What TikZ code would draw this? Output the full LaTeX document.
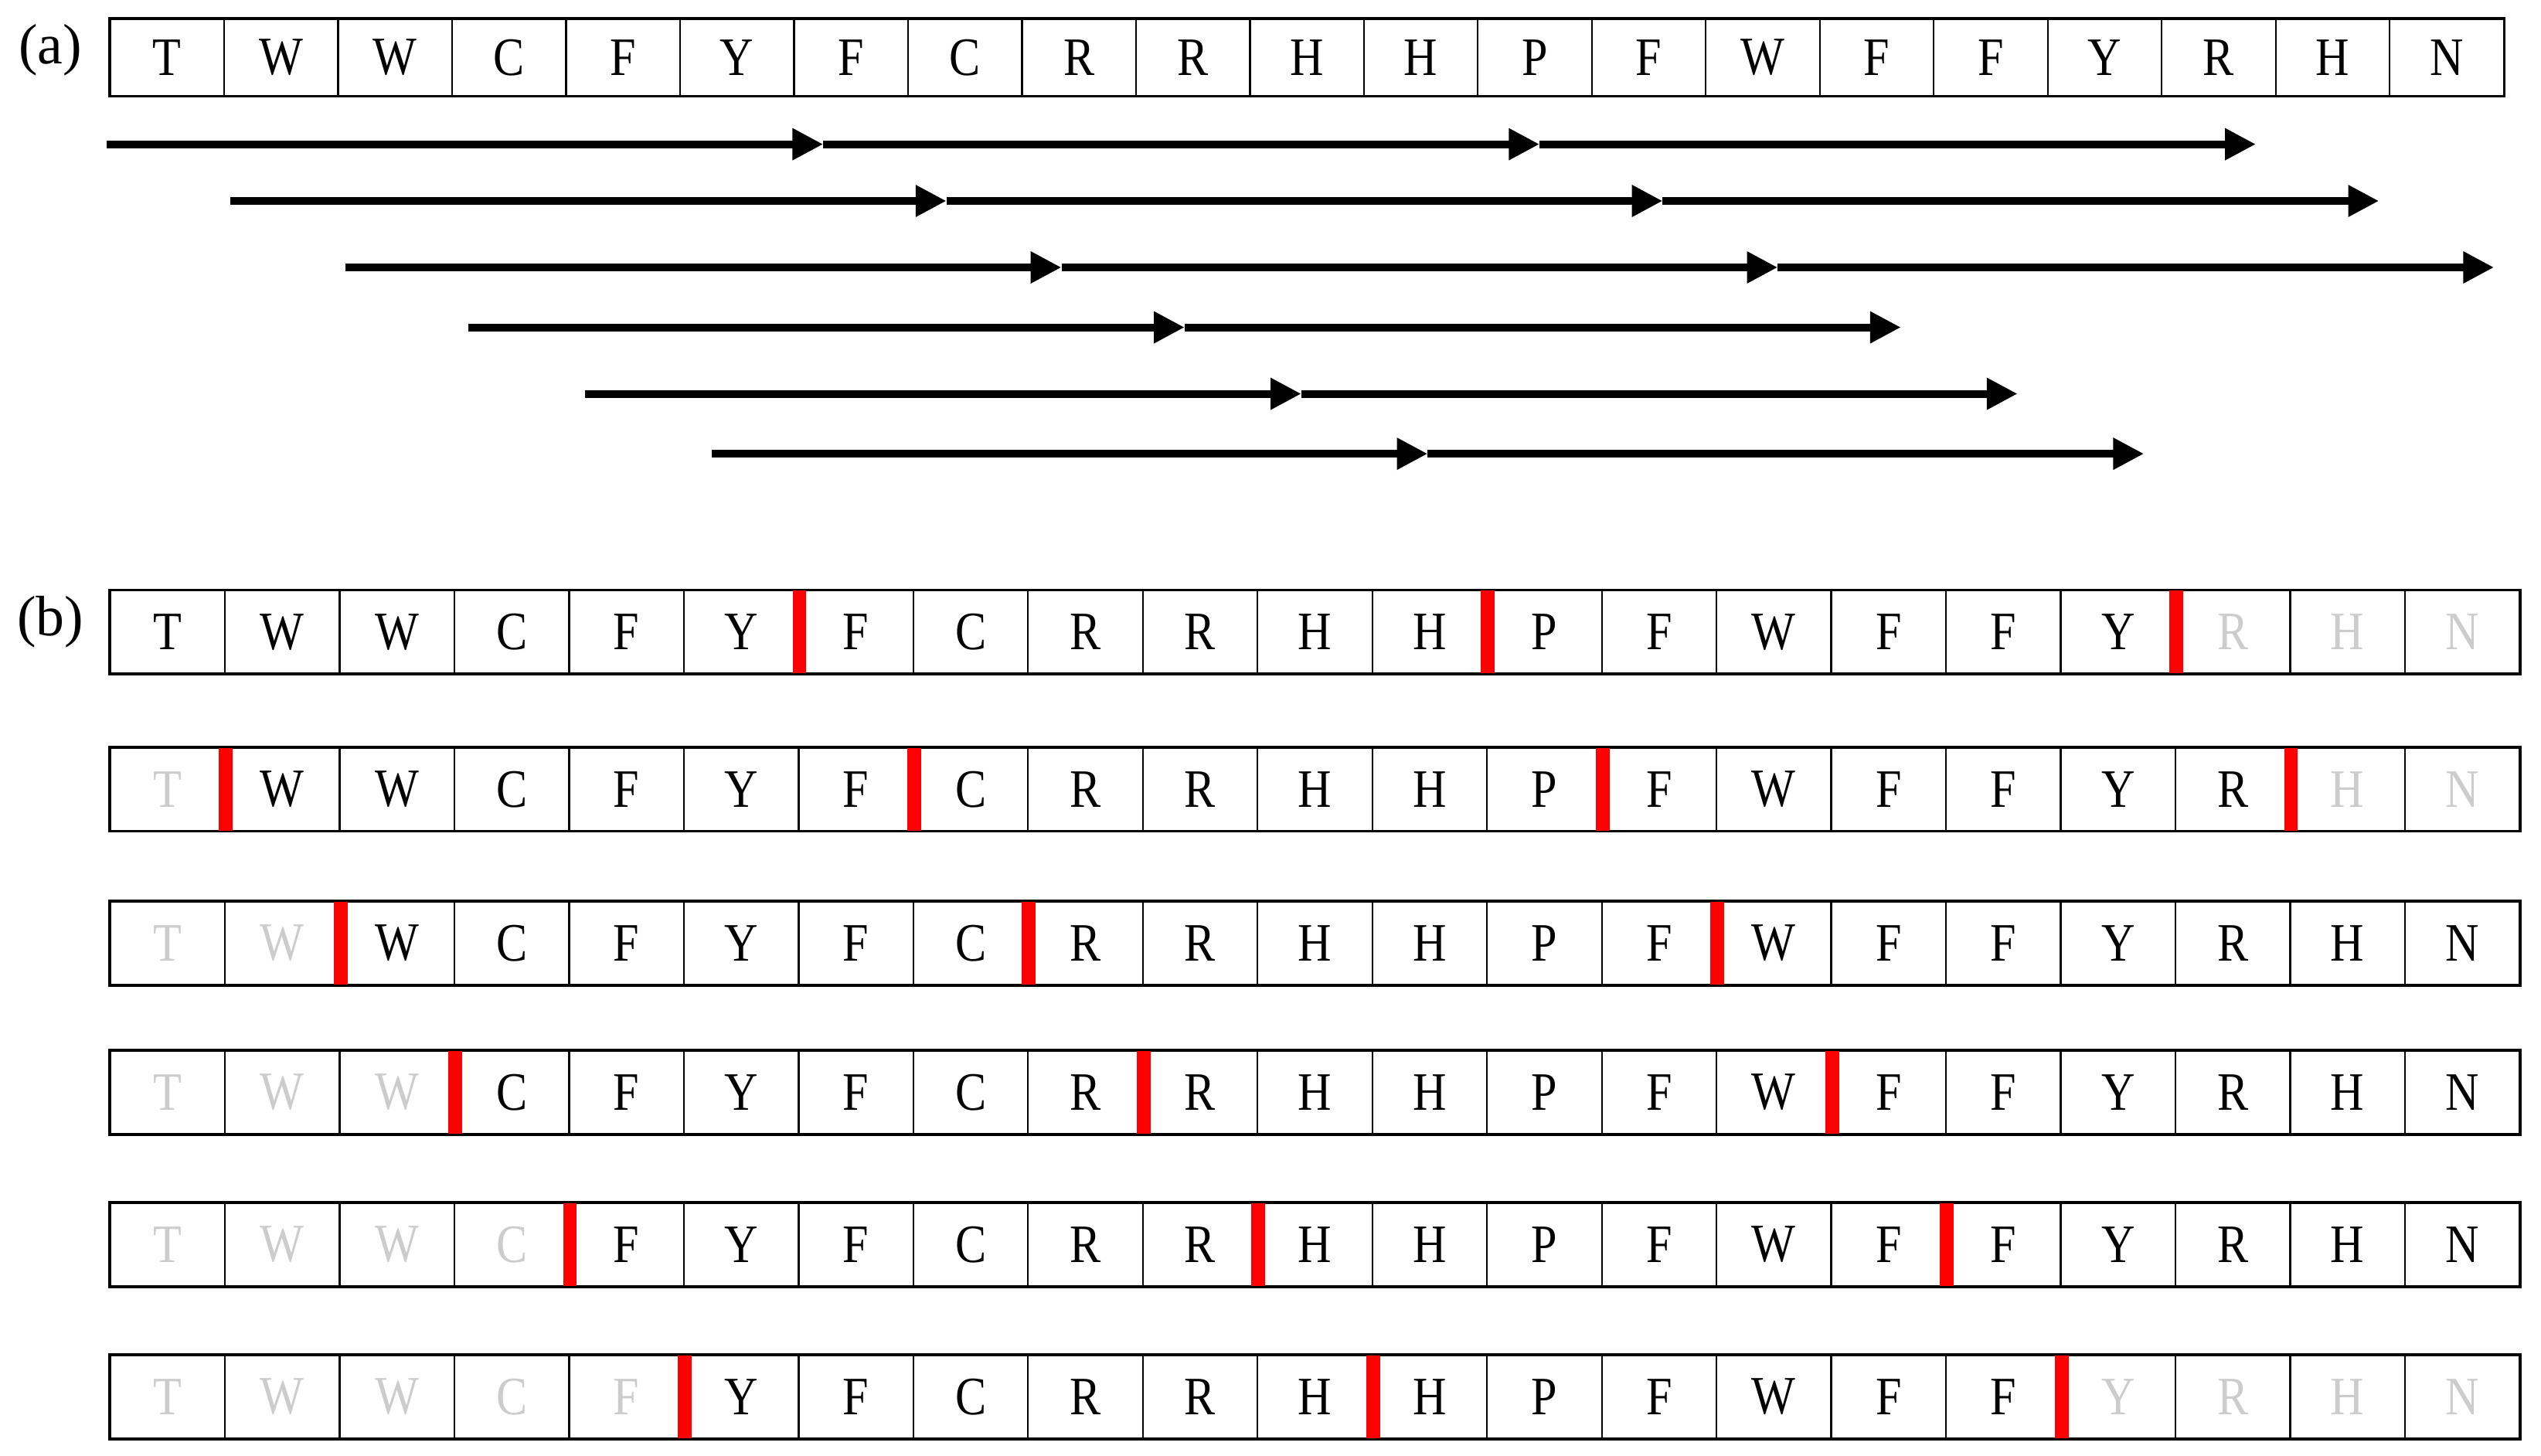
\documentclass[tikz,border=0pt]{standalone}
\usepackage{fontspec}
\setmainfont{Liberation Serif}
\usepackage{graphicx}
\usepackage{tikz}
\usetikzlibrary{arrows.meta,positioning,calc}
\usepackage{xcolor}

\definecolor{lettergray}{RGB}{204,204,204}
\newcommand{\protseq}{T,W,W,C,F,Y,F,C,R,R,H,H,P,F,W,F,F,Y,R,H,N}
\newcommand{\narrowletter}[1]{\scalebox{0.86}[1]{#1}}

\tikzset{
    cell/.style={draw, line width=0.6pt, inner sep=0pt,
        font=\fontsize{19}{19}\selectfont},
    topcell/.style={cell, minimum width=1.4066cm, minimum height=0.94cm},
    rowcell/.style={cell, minimum width=1.416cm, minimum height=1.02cm},
    frame/.style={line width=0.9pt},
    seg/.style={line width=2.7pt, -{Triangle[length=0.38cm, width=0.37cm]}},
    redbar/.style={fill=red, inner sep=0pt, minimum width=0.17cm, minimum height=1.02cm},
    tag/.style={font=\fontsize{20}{20}\selectfont}
}

\begin{document}
\begin{tikzpicture}[x=0.02cm, y=-0.02cm]
    \useasboundingbox (0,0) rectangle (1568,898);

    % (a) sequence and sliding windows
    \node[tag] (taga) at (31,31) {(a)};
    \foreach \c [count=\i] in \protseq {
        \node[topcell] (a-\i) at ({68+70.33*(\i-0.5)},35.5) {\narrowletter{\c}};
    }
    \draw[frame] (a-1.north west) rectangle (a-21.south east);

    \foreach \r/\y/\xs/\n in {1/89/66/3, 2/124/142/3, 3/165/213/3,
                              4/202/289/2, 5/243/361/2, 6/280/439/2} {
        \foreach \k in {0,...,\n}
            \coordinate (p\r-\k) at ({\xs+442*\k},\y);
        \foreach \k [evaluate=\k as \kk using int(\k-1)] in {1,...,\n}
            \draw[seg] (p\r-\kk) -- (p\r-\k);
    }

    % (b) cut positions
    \node[tag] (tagb) at (31,384) {(b)};
    \foreach \r/\y/\gl/\gr/\bars in {1/390/0/19/{6,12,18}, 2/487/1/20/{1,7,13,19},
                                     3/582/2/22/{2,8,14}, 4/674/3/22/{3,9,15},
                                     5/768/4/22/{4,10,16}, 6/862/5/18/{5,11,17}} {
        \foreach \c [count=\i] in \protseq {
            \def\tc{lettergray}
            \ifnum\i>\gl\relax\ifnum\i<\gr\relax\def\tc{black}\fi\fi
            \node[rowcell, text=\tc] (b\r-\i) at ({68+70.8*(\i-0.5)},\y) {\narrowletter{\c}};
        }
        \draw[frame] (b\r-1.north west) rectangle (b\r-21.south east);
        \foreach \k in \bars
            \node[redbar] (bar\r-\k) at (b\r-\k.east) {};
    }
\end{tikzpicture}
\end{document}
